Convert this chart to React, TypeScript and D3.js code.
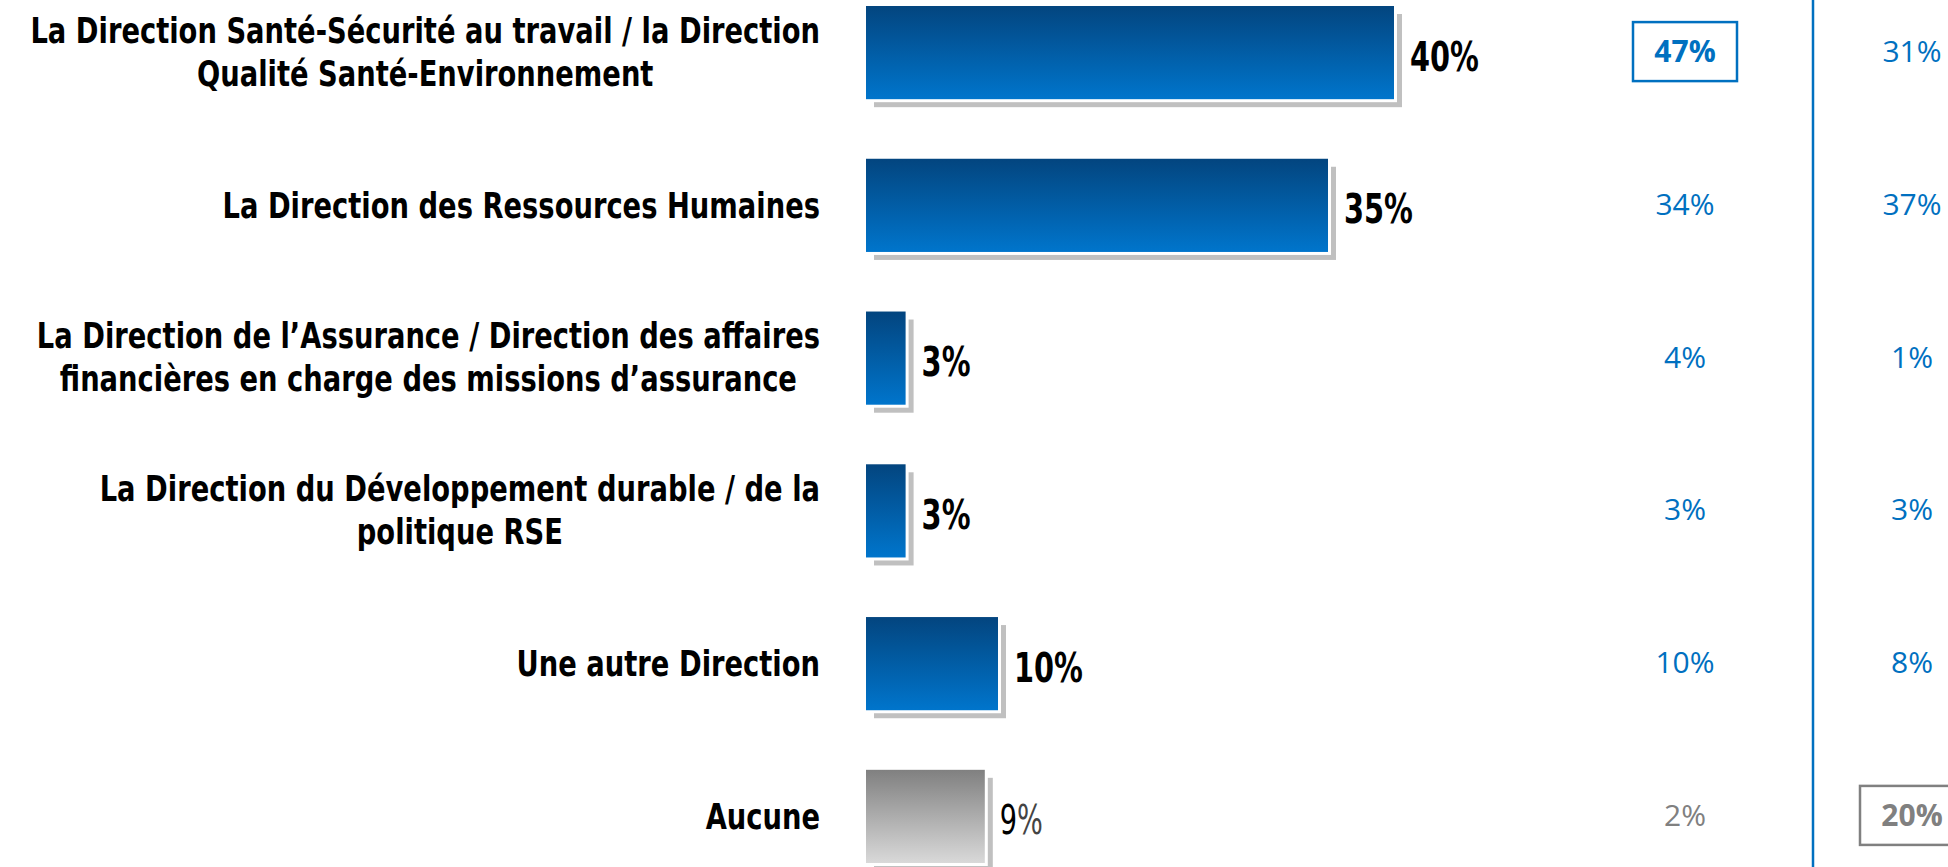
import React, { useEffect, useRef } from "react";
import * as d3 from "d3";

const categoryLines: string[][] = [
  ["La Direction Santé-Sécurité au travail / la Direction", "Qualité Santé-Environnement"],
  ["La Direction des Ressources Humaines"],
  ["La Direction de l’Assurance / Direction des affaires", "financières en charge des missions d’assurance"],
  ["La Direction du Développement durable / de la", "politique RSE"],
  ["Une autre Direction"],
  ["Aucune"],
];
const overallValues = [40, 35, 3, 3, 10, 9];
const groupAValues = [47, 34, 4, 3, 10, 2];
const groupBValues = [31, 37, 1, 3, 8, 20];
const groupAHighlight = 0;
const groupBHighlight = 5;
const neutralIndex = 5;

const W = 1948;
const H = 867;
const BLUE = "#0070c0";
const GREY = "#808080";
const LABEL_FONT = "'Liberation Sans Narrow', 'Arial Narrow', 'DejaVu Sans', sans-serif";
const COL_FONT = "'Open Sans', 'Noto Sans', sans-serif";

export default function App() {
  const ref = useRef<SVGSVGElement>(null);

  useEffect(() => {
    const svg = d3.select(ref.current!);
    svg.selectAll("*").remove();

    const defs = svg.append("defs");
    const gb = defs.append("linearGradient").attr("id", "gBlue").attr("x1", 0).attr("y1", 0).attr("x2", 0).attr("y2", 1);
    gb.append("stop").attr("offset", "0%").attr("stop-color", "#03457f");
    gb.append("stop").attr("offset", "100%").attr("stop-color", "#0075cc");
    const gg = defs.append("linearGradient").attr("id", "gGrey").attr("x1", 0).attr("y1", 0).attr("x2", 0).attr("y2", 1);
    gg.append("stop").attr("offset", "0%").attr("stop-color", "#808080");
    gg.append("stop").attr("offset", "100%").attr("stop-color", "#d9d9d9");

    const idx = d3.range(overallValues.length);
    const x = d3.scaleLinear().domain([0, 40]).range([866, 1394]);
    const y = d3.scaleBand<number>().domain(idx).range([6, 863]).paddingInner(0.39).paddingOuter(0);
    const bw = y.bandwidth();
    const cy = (i: number) => (y(i) as number) + bw / 2;

    // shadows
    svg.append("g").selectAll("rect").data(idx).join("rect")
      .attr("x", () => x(0) + 8)
      .attr("y", (i) => (y(i) as number) + 8)
      .attr("width", (i) => x(overallValues[i]) - x(0))
      .attr("height", bw)
      .attr("fill", "#c0c0c0");
    // white borders
    svg.append("g").selectAll("rect").data(idx).join("rect")
      .attr("x", () => x(0))
      .attr("y", (i) => y(i) as number)
      .attr("width", (i) => x(overallValues[i]) - x(0) + 3)
      .attr("height", bw + 3)
      .attr("fill", "#ffffff");
    // bars
    svg.append("g").selectAll("rect").data(idx).join("rect")
      .attr("x", () => x(0))
      .attr("y", (i) => y(i) as number)
      .attr("width", (i) => x(overallValues[i]) - x(0))
      .attr("height", bw)
      .attr("fill", (i) => (i === neutralIndex ? "url(#gGrey)" : "url(#gBlue)"));

    // bar value labels (horizontally condensed)
    const vg = svg.append("g").selectAll("g").data(idx).join("g")
      .attr("transform", (i) =>
        `translate(${x(overallValues[i]) + (i === neutralIndex ? 15 : 16)},${cy(i) + 4}) scale(${i === neutralIndex ? 0.68 : 0.72},1)`);
    const vl = vg.append("text")
      .attr("dy", "0.35em")
      .attr("font-family", LABEL_FONT)
      .attr("font-size", 40)
      .attr("font-weight", (i) => (i === neutralIndex ? "normal" : "bold"))
      .attr("fill", "#000");
    vl.append("tspan").text((i) => String(overallValues[i]));
    vl.append("tspan").text("%").attr("fill", (i) => (i === neutralIndex ? "#444" : "#000"));

    // category labels (condensed, block right-aligned, lines centred)
    const labelRight = 820;
    const lineGap = 43;
    const sx = 0.76;
    const lg = svg.append("g");
    idx.forEach((i) => {
      const lines = categoryLines[i];
      const g = lg.append("g").attr("transform", `translate(${labelRight},${cy(i)}) scale(${sx},1)`);
      const texts = lines.map((ln, k) =>
        g.append("text")
          .attr("y", (k - (lines.length - 1) / 2) * lineGap - (lines.length > 1 ? 1 : 0))
          .attr("dy", "0.35em")
          .attr("font-family", LABEL_FONT)
          .attr("font-size", 36)
          .attr("font-weight", "bold")
          .attr("fill", "#000")
          .attr("text-anchor", "middle")
          .text(ln)
      );
      const widths = texts.map((t) => (t.node() as SVGTextElement).getComputedTextLength());
      const maxW = d3.max(widths) || 0;
      texts.forEach((t) => t.attr("x", -maxW / 2));
    });

    // group columns
    const colA = 1685;
    const colB = 1912;
    const boxW = 104;
    const boxH = 59;
    svg.append("line")
      .attr("x1", 1813).attr("x2", 1813).attr("y1", 0).attr("y2", H)
      .attr("stroke", BLUE).attr("stroke-width", 2.5);

    const drawCol = (vals: number[], cx: number, hi: number) => {
      const g = svg.append("g");
      g.selectAll("rect").data([hi]).join("rect")
        .attr("x", cx - boxW / 2)
        .attr("y", (i) => cy(i) - boxH / 2 - 1)
        .attr("width", boxW)
        .attr("height", boxH)
        .attr("fill", "none")
        .attr("stroke", (i) => (i === neutralIndex ? GREY : BLUE))
        .attr("stroke-width", 2.5);
      g.selectAll("text").data(idx).join("text")
        .attr("x", cx)
        .attr("y", (i) => cy(i) - 1)
        .attr("dy", "0.35em")
        .attr("text-anchor", "middle")
        .attr("font-family", COL_FONT)
        .attr("font-size", 30)
        .attr("font-weight", (i) => (i === hi ? "bold" : "normal"))
        .attr("fill", (i) => (i === neutralIndex ? GREY : BLUE))
        .text((i) => `${vals[i]}%`);
    };
    drawCol(groupAValues, colA, groupAHighlight);
    drawCol(groupBValues, colB, groupBHighlight);
  }, []);

  return (
    <svg
      ref={ref}
      width={W}
      height={H}
      style={{ position: "absolute", left: 0, top: 0, background: "#ffffff", display: "block" }}
    />
  );
}
